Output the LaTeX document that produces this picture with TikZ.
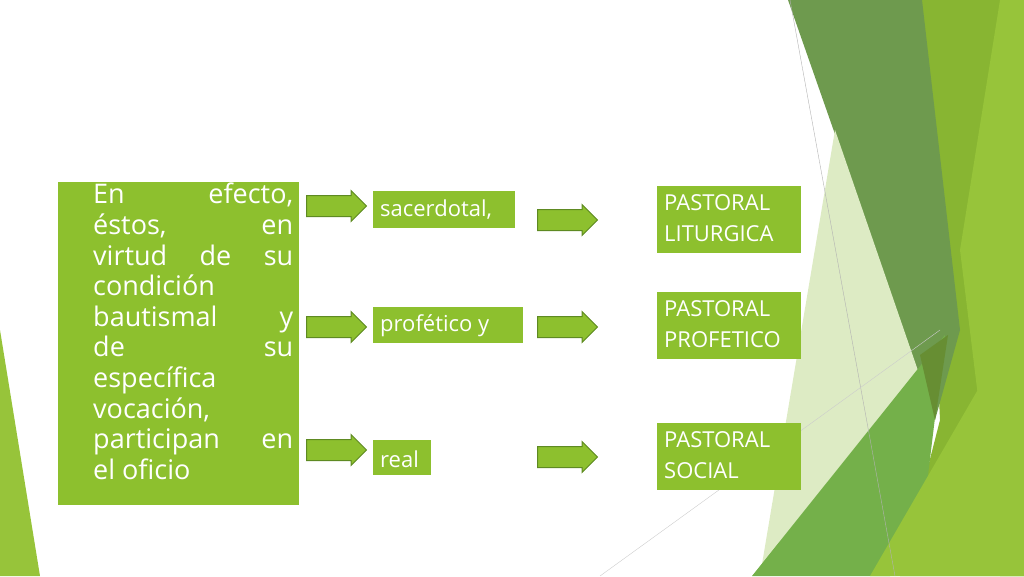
\documentclass[tikz,border=0pt]{standalone}
\usepackage{fontspec}
\setmainfont{Open Sans}
\usetikzlibrary{shapes.arrows}
\definecolor{lg}{HTML}{8DC02E}
\definecolor{ab}{HTML}{5E8A22}
\definecolor{dg}{HTML}{6E9A4E}
\definecolor{mg}{HTML}{88B532}
\definecolor{bg2}{HTML}{97C43A}
\definecolor{pale}{HTML}{DDEBC4}
\definecolor{midg}{HTML}{74B04A}
\tikzset{
 gbox/.style={fill=lg,text=white,inner sep=0pt,anchor=north west},
 arr/.style={single arrow,fill=lg,draw=ab,line width=1pt,minimum height=60pt,minimum width=30pt,single arrow head extend=5pt,inner xsep=0pt,inner ysep=10pt,anchor=west},
 lbl/.style={text=white,font=\fontsize{22}{26}\selectfont,anchor=west,inner sep=0pt},
}
\begin{document}
\begin{tikzpicture}[x=1pt,y=-1pt]
\useasboundingbox (0,0) rectangle (1024,576);
% background decoration
\fill[mg] (920,0) -- (1024,0) -- (1024,576) -- (900,576) -- (940,420) -- cycle;
\fill[bg2] (1000,0) -- (1024,0) -- (1024,576) -- (1000,576) -- (960,250) -- cycle;
\fill[dg] (788,0) -- (922,0) -- (960,330) -- (935,420) -- cycle;
\fill[pale] (835,130) -- (935,420) -- (760,576) -- cycle;
\fill[midg] (752,576) -- (945,335) -- (925,500) -- (890,576) -- cycle;
\fill[dg!70!black!60!lg] (920,355) -- (948,335) -- (935,420) -- cycle;
\fill[bg2] (870,576) -- (1024,310) -- (1024,576) -- cycle;
\draw[gray!60,line width=0.4pt] (790,0) -- (895,576);
\draw[gray!40,line width=0.4pt] (600,576) -- (940,330);
\fill[bg2] (0,330) -- (0,576) -- (40,576) -- cycle;
% main box
\node[gbox,minimum width=241pt,minimum height=323pt] (main) at (58,182) {};
\node[text=white,anchor=north west,inner sep=0pt,font=\fontsize{27}{30.6}\selectfont] (mt) at (93,183) {\parbox[t]{200pt}{%
\hbox to 200pt{En\hfill efecto,}
\hbox to 200pt{éstos,\hfill en}
\hbox to 200pt{virtud\hfill de\hfill su}
\hbox to 200pt{condición\hfill}
\hbox to 200pt{bautismal\hfill y}
\hbox to 200pt{de\hfill su}
\hbox to 200pt{específica\hfill}
\hbox to 200pt{vocación,\hfill}
\hbox to 200pt{participan\hfill en}
\hbox to 200pt{el oficio\hfill}}};
% middle boxes
\node[gbox,minimum width=142pt,minimum height=37pt] (m1) at (373,191) {};
\node[lbl] at (380,210) {sacerdotal,};
\node[gbox,minimum width=150pt,minimum height=36pt] (m2) at (373,307) {};
\node[lbl] at (380,326) {profético y};
\node[gbox,minimum width=58pt,minimum height=35pt] (m3) at (373,440) {};
\node[lbl] at (380,459) {real};
% right boxes
\foreach \n/\y/\a/\b in {r1/186/PASTORAL/LITURGICA, r2/292/PASTORAL/PROFETICO, r3/423/PASTORAL/SOCIAL}{
 \node[gbox,minimum width=144pt,minimum height=67pt] (\n) at (657,\y) {};
 \node[text=white,anchor=north west,inner sep=0pt,font=\fontsize{22}{31}\selectfont,align=left] at (664,\y+8) {\a\\\b};
}
% arrows
\node[arr] (a1) at (306,206) {};
\node[arr] (a2) at (306,327) {};
\node[arr] (a3) at (306,450) {};
\node[arr] (b1) at (537,220) {};
\node[arr] (b2) at (537,327) {};
\node[arr] (b3) at (537,457) {};
\end{tikzpicture}
\end{document}
